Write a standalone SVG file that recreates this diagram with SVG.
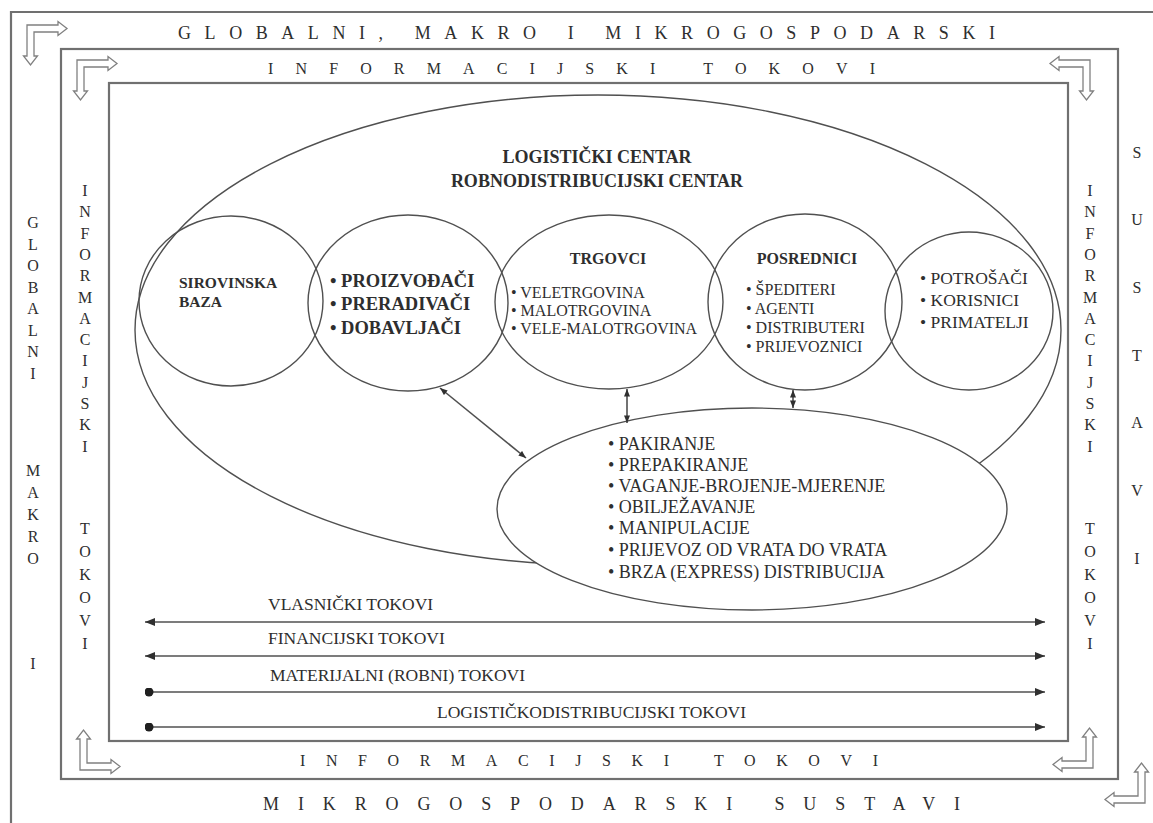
<svg xmlns="http://www.w3.org/2000/svg" xmlns:xlink="http://www.w3.org/1999/xlink" width="1153" height="823" viewBox="0 0 1153 823">
<style>
.fr{fill:none;stroke:#707070;stroke-width:2.2}
.ln{fill:none;stroke:#505050;stroke-width:1.4}
.lnw{fill:#fff;stroke:#505050;stroke-width:1.4}
.ar{fill:none;stroke:#505050;stroke-width:1.6}
.bend{fill:#fff;stroke:#808080;stroke-width:1.3}
.t{font-family:"Liberation Serif","DejaVu Serif",serif;fill:#2e2e2e}
.hd{font-size:18px}
.vc{font-size:16px;text-anchor:middle}
.b{font-weight:bold}
.s15{font-size:15.5px}
.s16{font-size:16px}
.s17{font-size:17.5px}
.s18{font-size:18px}
.s185{font-size:18.5px}
.mid{text-anchor:middle}
</style>
<defs>
<path id="bend" d="M0,0 H31 V-3.5 L40,3.5 L31,10.5 V7 H7 V31 H10.5 L3.5,40 L-3.5,31 H0 Z"/>
<marker id="ah" viewBox="0 0 10 8" refX="10" refY="4" markerWidth="10" markerHeight="8" markerUnits="userSpaceOnUse" orient="auto-start-reverse"><path d="M0,0 L10,4 L0,8 z" fill="#303030"/></marker>
<marker id="ahs" viewBox="0 0 10 8" refX="10" refY="4" markerWidth="8" markerHeight="6" markerUnits="userSpaceOnUse" orient="auto-start-reverse"><path d="M0,0 L10,4 L0,8 z" fill="#303030"/></marker>
<marker id="dot" viewBox="0 0 10 10" refX="5" refY="5" markerWidth="9" markerHeight="9" markerUnits="userSpaceOnUse"><circle cx="5" cy="5" r="5" fill="#202020"/></marker>
</defs>
<rect width="1153" height="823" fill="#fff"/>

<g id="frames">
<path class="fr" d="M11,840 V12 H1170"/>
<rect class="fr" x="61" y="49" width="1057" height="730"/>
<rect class="fr" x="109" y="83" width="959" height="658"/>
</g>

<g id="corner-arrows">
<use xlink:href="#bend" class="bend" transform="translate(27,25)"/>
<use xlink:href="#bend" class="bend" transform="translate(77,60)"/>
<use xlink:href="#bend" class="bend" transform="translate(1090,60) scale(-1,1)"/>
<use xlink:href="#bend" class="bend" transform="translate(80,770) scale(1,-1)"/>
<use xlink:href="#bend" class="bend" transform="translate(1093,768) scale(-1,-1)"/>
<use xlink:href="#bend" class="bend" transform="translate(1145,803) scale(-1,-1)"/>
</g>

<g id="frame-labels" class="t">
<text class="hd" x="178" y="39" textLength="817" lengthAdjust="spacing">GLOBALNI, MAKRO I MIKROGOSPODARSKI</text>
<text class="s16" x="268" y="74" textLength="607" lengthAdjust="spacing">INFORMACIJSKI TOKOVI</text>
<text class="s16" x="300" y="766" textLength="578" lengthAdjust="spacing">INFORMACIJSKI TOKOVI</text>
<text class="hd" x="263" y="810" textLength="697" lengthAdjust="spacing">MIKROGOSPODARSKI SUSTAVI</text>
</g>

<g id="left-outer-label" class="t vc">
<text x="33" y="228">G</text><text x="33" y="249.5">L</text><text x="33" y="271">O</text><text x="33" y="292.5">B</text><text x="33" y="314">A</text><text x="33" y="335.5">L</text><text x="33" y="357">N</text><text x="33" y="378.5">I</text>
<text x="33" y="476">M</text><text x="33" y="498">A</text><text x="33" y="520">K</text><text x="33" y="542">R</text><text x="33" y="564">O</text>
<text x="33" y="669">I</text>
</g>

<g id="left-inner-label" class="t vc">
<text x="85" y="196">I</text><text x="85" y="217.3">N</text><text x="85" y="238.6">F</text><text x="85" y="259.9">O</text><text x="85" y="281.2">R</text><text x="85" y="302.5">M</text><text x="85" y="323.8">A</text><text x="85" y="345.1">C</text><text x="85" y="366.4">I</text><text x="85" y="387.7">J</text><text x="85" y="409">S</text><text x="85" y="430.3">K</text><text x="85" y="451.6">I</text>
<text x="85" y="534">T</text><text x="85" y="557">O</text><text x="85" y="580">K</text><text x="85" y="603">O</text><text x="85" y="626">V</text><text x="85" y="649">I</text>
</g>

<g id="right-inner-label" class="t vc">
<text x="1090" y="196">I</text><text x="1090" y="217.3">N</text><text x="1090" y="238.6">F</text><text x="1090" y="259.9">O</text><text x="1090" y="281.2">R</text><text x="1090" y="302.5">M</text><text x="1090" y="323.8">A</text><text x="1090" y="345.1">C</text><text x="1090" y="366.4">I</text><text x="1090" y="387.7">J</text><text x="1090" y="409">S</text><text x="1090" y="430.3">K</text><text x="1090" y="451.6">I</text>
<text x="1090" y="534">T</text><text x="1090" y="557">O</text><text x="1090" y="580">K</text><text x="1090" y="603">O</text><text x="1090" y="626">V</text><text x="1090" y="649">I</text>
</g>

<g id="right-outer-label" class="t vc">
<text x="1137" y="158">S</text><text x="1137" y="225">U</text><text x="1137" y="293">S</text><text x="1137" y="361">T</text><text x="1137" y="428">A</text><text x="1137" y="496">V</text><text x="1137" y="564">I</text>
</g>

<g id="logisticki-centar">
<ellipse class="ln" cx="598" cy="330" rx="463" ry="235"/>
<text class="t b s18 mid" x="597" y="163">LOGISTIČKI CENTAR</text>
<text class="t b s18 mid" x="597" y="187">ROBNODISTRIBUCIJSKI CENTAR</text>
</g>

<g id="sirovinska-baza">
<ellipse class="ln" cx="231" cy="301" rx="92" ry="85"/>
<text class="t b s15" x="179" y="288">SIROVINSKA</text>
<text class="t b s15" x="179" y="307">BAZA</text>
</g>

<g id="proizvodaci">
<ellipse class="ln" cx="408" cy="303" rx="100" ry="88"/>
<text class="t b s185" x="330" y="287">• PROIZVOĐAČI</text>
<text class="t b s185" x="330" y="310">• PRERADIVAČI</text>
<text class="t b s185" x="330" y="334">• DOBAVLJAČI</text>
</g>

<g id="trgovci">
<ellipse class="ln" cx="609" cy="302" rx="114" ry="87"/>
<text class="t b s16 mid" x="608" y="264">TRGOVCI</text>
<text class="t s16" x="511" y="298">• VELETRGOVINA</text>
<text class="t s16" x="511" y="316">• MALOTRGOVINA</text>
<text class="t s16" x="511" y="334">• VELE-MALOTRGOVINA</text>
</g>

<g id="posrednici">
<ellipse class="ln" cx="805" cy="302" rx="97" ry="88"/>
<text class="t b s16 mid" x="807" y="264">POSREDNICI</text>
<text class="t s16" x="746" y="295">• ŠPEDITERI</text>
<text class="t s16" x="746" y="314">• AGENTI</text>
<text class="t s16" x="746" y="333">• DISTRIBUTERI</text>
<text class="t s16" x="746" y="352">• PRIJEVOZNICI</text>
</g>

<g id="potrosaci">
<ellipse class="ln" cx="969" cy="311" rx="84" ry="79"/>
<text class="t s17" x="920" y="284">• POTROŠAČI</text>
<text class="t s17" x="920" y="306">• KORISNICI</text>
<text class="t s17" x="920" y="328">• PRIMATELJI</text>
</g>

<g id="usluge">
<ellipse class="lnw" cx="752" cy="509" rx="255" ry="101"/>
<text class="t s18" x="608" y="450">• PAKIRANJE</text>
<text class="t s18" x="608" y="471">• PREPAKIRANJE</text>
<text class="t s18" x="608" y="492">• VAGANJE-BROJENJE-MJERENJE</text>
<text class="t s18" x="608" y="513">• OBILJEŽAVANJE</text>
<text class="t s18" x="608" y="534">• MANIPULACIJE</text>
<text class="t s18" x="608" y="556">• PRIJEVOZ OD VRATA DO VRATA</text>
<text class="t s18" x="608" y="578">• BRZA (EXPRESS) DISTRIBUCIJA</text>
</g>

<g id="connectors">
<line class="ar" x1="440" y1="388" x2="526" y2="458" marker-start="url(#ahs)" marker-end="url(#ahs)"/>
<line class="ar" x1="627" y1="389" x2="627" y2="423" marker-start="url(#ahs)" marker-end="url(#ahs)"/>
<line class="ar" x1="793" y1="390" x2="793" y2="408" marker-start="url(#ahs)" marker-end="url(#ahs)"/>
<line class="ar" x1="145" y1="622" x2="1045" y2="622" marker-start="url(#ah)" marker-end="url(#ah)"/>
<line class="ar" x1="145" y1="656" x2="1045" y2="656" marker-start="url(#ah)" marker-end="url(#ah)"/>
<line class="ar" x1="149" y1="692" x2="1045" y2="692" marker-start="url(#dot)" marker-end="url(#ah)"/>
<line class="ar" x1="149" y1="727" x2="1045" y2="727" marker-start="url(#dot)" marker-end="url(#ah)"/>
</g>

<g id="flow-labels" class="t s17">
<text x="268" y="610">VLASNIČKI TOKOVI</text>
<text x="268" y="644">FINANCIJSKI TOKOVI</text>
<text x="270" y="681">MATERIJALNI (ROBNI) TOKOVI</text>
<text x="437" y="718">LOGISTIČKODISTRIBUCIJSKI TOKOVI</text>
</g>
</svg>
